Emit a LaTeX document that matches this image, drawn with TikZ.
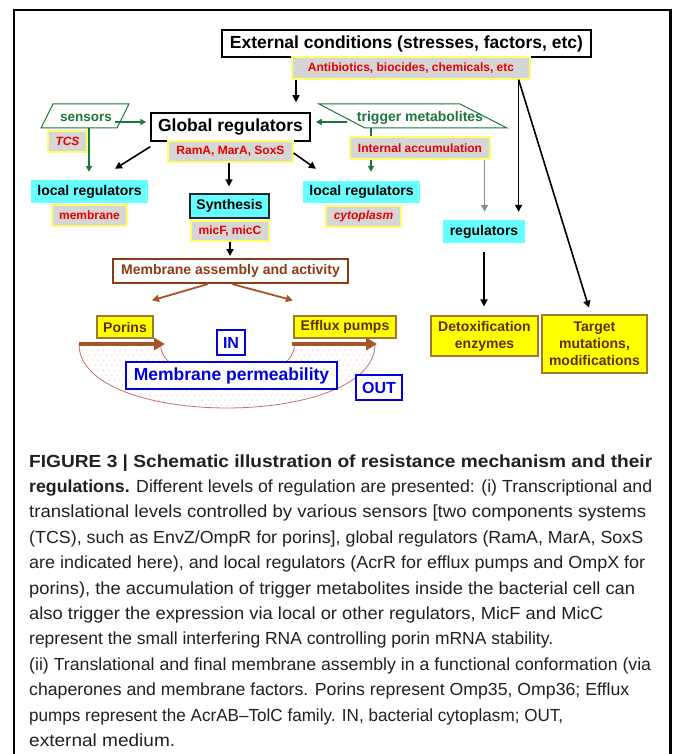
\documentclass[tikz,border=0pt]{standalone}
\usepackage{fontspec}
\usepackage{graphicx}
\newfontfamily\arial{Liberation Sans}
\usetikzlibrary{arrows.meta,calc}
\definecolor{cyanbox}{RGB}{102,255,255}
\definecolor{lgray}{RGB}{214,214,214}
\definecolor{ylw}{RGB}{255,255,110}
\definecolor{redtxt}{RGB}{228,0,0}
\definecolor{grn}{RGB}{30,118,60}
\definecolor{brn}{RGB}{140,60,20}
\definecolor{brnarrow}{RGB}{165,85,40}
\definecolor{ybox}{RGB}{255,255,0}
\definecolor{ybord}{RGB}{160,120,50}
\definecolor{dbrn}{RGB}{95,45,0}
\definecolor{blu}{RGB}{0,0,220}
\definecolor{dotc}{RGB}{230,165,165}
\definecolor{cresc}{RGB}{200,110,110}
\definecolor{captxt}{RGB}{35,31,32}
\definecolor{grayarrow}{RGB}{140,140,140}
\begin{document}
\begin{tikzpicture}[x=1pt,y=-1pt,
  f175/.style={font=\arial\bfseries\fontsize{17.5}{20}\selectfont},
  f14/.style={font=\arial\bfseries\fontsize{14}{17}\selectfont},
  lbl/.style={font=\arial\bfseries\fontsize{12}{14}\selectfont, text=redtxt, fill=lgray, draw=ylw, line width=1.2pt, inner sep=0pt},
  cyanb/.style={f14, fill=cyanbox, inner sep=0pt},
  ybx/.style={f14, fill=ybox, draw=ybord, line width=1.2pt, text=dbrn, inner sep=0pt, align=center},
  blubox/.style={draw=blu, line width=1.6pt, text=blu, fill=white, inner sep=0pt},
  arr/.style={line width=1.6pt, -{Triangle[length=7pt,width=7pt]}},
  garr/.style={draw=grn, line width=1.5pt, -{Triangle[length=6pt,width=6pt]}, grn},
  grarr/.style={draw=grayarrow, line width=1.6pt, -{Triangle[length=7pt,width=7pt]}, grayarrow},
  barr/.style={draw=brnarrow, line width=1.8pt, -{Triangle[length=7pt,width=7pt]}, brnarrow},
  thickarr/.style={draw=brnarrow, line width=4pt, -{Triangle[length=11pt,width=12pt]}, brnarrow},
  para/.style={draw=grn, line width=1pt},
  capline/.style={anchor=base west, inner sep=0pt, text=captxt, font=\arial\fontsize{17.5}{20}\selectfont}
]
\useasboundingbox (0,0) rectangle (673,754);
\fill[white] (0,0) rectangle (673,754);
% frame
\draw[line width=2.2pt] (14.3,754) -- (14.3,10.3) -- (670.5,10.3) -- (670.5,754);

% top boxes
\node[f175, draw=black, line width=1.5pt, fill=white, inner sep=0pt, minimum width=369, minimum height=27] (ext) at (406.5,43.5) {External conditions (stresses, factors, etc)};
\node[lbl, minimum width=238, minimum height=22] (anti) at (411,68) {Antibiotics, biocides, chemicals, etc};

% global regulators
\node[f175, draw=black, line width=1.5pt, fill=white, inner sep=0pt, minimum width=159, minimum height=28] (glob) at (230.5,127) {Global regulators};
\node[lbl, minimum width=125, minimum height=21] (rama) at (230.5,151.5) {RamA, MarA, SoxS};

% sensors parallelogram
\draw[para] (41,128) -- (53,104) -- (129,104) -- (117,128) -- cycle;
\node[f14, text=grn, inner sep=0pt, font=\arial\bfseries\fontsize{13.5}{16}\selectfont] (sens) at (86,118) {sensors};
\coordinate (s1) at (115,122);
\coordinate (s2) at (89,128);
\node[lbl, font=\arial\bfseries\itshape\fontsize{12}{14}\selectfont, minimum width=39, minimum height=21] (tcs) at (67.5,141.5) {TCS};

% trigger parallelogram
\draw[para] (319,104) -- (460,104) -- (507,128) -- (365,128) -- cycle;
\node[f14, text=grn, inner sep=0pt] (trig) at (420,118) {trigger metabolites};
\coordinate (t1) at (347,122);
\coordinate (t2) at (371,128);

% local regulators
\node[cyanb, minimum width=117, minimum height=23] (locl) at (89.5,191.5) {local regulators};
\node[lbl, minimum width=75, minimum height=21] (memb) at (89.5,215.5) {membrane};
\node[cyanb, minimum width=117, minimum height=22] (locr) at (361.5,192) {local regulators};
\node[lbl, font=\arial\bfseries\itshape\fontsize{12}{14}\selectfont, minimum width=75, minimum height=21] (cyto) at (363.5,216.5) {cytoplasm};

% green arrow trig -> locR (behind internal accumulation)
\draw[garr, shorten >=9pt] (t2) -- (t2 |- locr.north);
\node[lbl, minimum width=140, minimum height=22] (ia) at (420,148) {Internal accumulation};

% synthesis
\node[cyanb, draw=black!85, line width=1.3pt, minimum width=79, minimum height=24] (synth) at (229.5,206) {Synthesis};
\node[lbl, minimum width=78, minimum height=20] (micf) at (230,231) {micF, micC};

% regulators right
\node[cyanb, minimum width=82, minimum height=23] (regs) at (484,231.5) {regulators};
\node[ybx, minimum width=107, minimum height=40] (detox) at (484.5,336) {Detoxification\\enzymes};
\node[ybx, minimum width=105, minimum height=58] (target) at (594.5,344) {Target\\mutations,\\modifications};

% membrane assembly
\node[font=\arial\bfseries\fontsize{14}{16}\selectfont, text=brn, draw=brn, line width=2pt, fill=white, inner sep=0pt, minimum width=235, minimum height=24] (ma) at (230.5,271) {Membrane assembly and activity};
\node[ybx, minimum width=56, minimum height=22] (porins) at (125,327) {Porins};
\node[ybx, minimum width=102, minimum height=22] (efflux) at (345,327) {Efflux pumps};

% crescent with dots
\begin{scope}
\clip (79,344) .. controls (79,429.3) and (375,429.3) .. (375,344) -- (294.5,344) .. controls (294.5,390) and (160.5,390) .. (160.5,344) -- cycle;
\foreach \yy [count=\i] in {345,350,...,412} {
  \pgfmathsetmacro{\xoff}{mod(\i,2)*2.75}
  \foreach \xx in {76,81.5,...,381} {
    \fill[dotc] (\xx+\xoff,\yy) circle (0.5);
  }
}
\end{scope}
\draw[cresc, line width=0.8pt] (79,344) .. controls (79,429.3) and (375,429.3) .. (375,344);
\draw[cresc, line width=0.8pt] (294.5,344) .. controls (294.5,390) and (160.5,390) .. (160.5,344);

\coordinate (p1) at (79,344);
\coordinate (p2) at (165,344);
\coordinate (e1) at (292,344);
\coordinate (e2) at (377,344);
\draw[thickarr] (p1) -- (p2);
\draw[thickarr] (e1) -- (e2);

\node[blubox, font=\arial\bfseries\fontsize{17.5}{20}\selectfont, minimum width=211, minimum height=27] (perm) at (231.5,375.5) {Membrane permeability};
\node[blubox, font=\arial\bfseries\fontsize{16}{18}\selectfont, minimum width=28, minimum height=25] (in) at (231,342.5) {IN};
\node[blubox, font=\arial\bfseries\fontsize{16}{18}\selectfont, minimum width=46, minimum height=25] (out) at (379,387.5) {OUT};

% connectors
\coordinate (a1) at ([xshift=-115pt]anti.south);
\draw[arr, shorten >=10pt] (a1) -- (a1 |- glob.north);
\coordinate (a2) at ([xshift=-12pt]anti.south east);
\draw[arr, shorten >=8pt] (a2) -- (a2 |- regs.north);
\draw[arr, shorten >=7pt] (a2) -- ([xshift=-3.5pt]target.north);
\draw[garr, shorten >=4pt] (s1) -- (s1 -| glob.west);
\draw[garr, shorten >=8pt] (s2) -- (s2 |- locl.north);
\draw[garr, shorten >=5pt] (t1) -- (t1 -| glob.east);
\draw[arr] ([yshift=-5pt]glob.south west) -- ([xshift=25.5pt,yshift=11pt]locl.north);
\draw[arr] ([yshift=-1.5pt]rama.east) -- ([xshift=-45.5pt,yshift=12pt]locr.north);
\draw[arr, shorten >=7pt] ([xshift=-1.5pt]rama.south) -- ([xshift=-1.5pt]rama.south |- synth.north);
\coordinate (i1) at ([xshift=-6pt]ia.south east);
\draw[grarr, shorten >=8pt] (i1) -- (i1 |- regs.north);
\draw[arr, shorten <=9pt, shorten >=9pt] (regs.south) -- (regs.south |- detox.north);
\draw[arr, shorten >=2pt] (micf.south) -- (micf.south |- ma.north);
\draw[barr] ([xshift=-22.5pt]ma.south) -- ([xshift=27pt,yshift=15pt]porins.north);
\draw[barr] ([xshift=1.5pt]ma.south) -- ([xshift=-52pt,yshift=15pt]efflux.north);

% caption
\node[capline] (cap1) at (29,467) {\resizebox{623pt}{\height}{\bfseries FIGURE 3 | Schematic illustration of resistance mechanism and their}};
\node[capline] (cap2) at (29,492.4) {\resizebox{623pt}{\height}{\textbf{regulations.} Different levels of regulation are presented: (i) Transcriptional and}};
\node[capline] (cap3) at (29,517.8) {\resizebox{617pt}{\height}{translational levels controlled by various sensors [two components systems}};
\node[capline] (cap4) at (29,543.2) {\resizebox{614pt}{\height}{(TCS), such as EnvZ/OmpR for porins], global regulators (RamA, MarA, SoxS}};
\node[capline] (cap5) at (29,568.6) {\resizebox{616pt}{\height}{are indicated here), and local regulators (AcrR for efflux pumps and OmpX for}};
\node[capline] (cap6) at (29,594) {\resizebox{606pt}{\height}{porins), the accumulation of trigger metabolites inside the bacterial cell can}};
\node[capline] (cap7) at (29,619.4) {\resizebox{574pt}{\height}{also trigger the expression via local or other regulators, MicF and MicC}};
\node[capline] (cap8) at (29,644.8) {\resizebox{524pt}{\height}{represent the small interfering RNA controlling porin mRNA stability.}};
\node[capline] (cap9) at (29,670.2) {\resizebox{622pt}{\height}{(ii) Translational and final membrane assembly in a functional conformation (via}};
\node[capline] (cap10) at (29,695.6) {\resizebox{600pt}{\height}{chaperones and membrane factors. Porins represent Omp35, Omp36; Efflux}};
\node[capline] (cap11) at (29,721) {\resizebox{534pt}{\height}{pumps represent the AcrAB–TolC family. IN, bacterial cytoplasm; OUT,}};
\node[capline] (cap12) at (29,746.4) {\resizebox{146pt}{\height}{external medium.}};
\end{tikzpicture}
\end{document}
